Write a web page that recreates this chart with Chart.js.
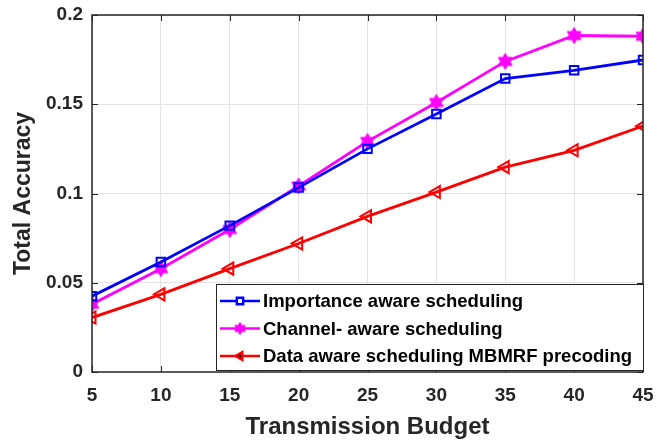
<!DOCTYPE html>
<html>
<head>
<meta charset="utf-8">
<script src="https://cdn.jsdelivr.net/npm/chart.js@4.4.0/dist/chart.umd.min.js"></script>
<style>
  html, body { margin: 0; padding: 0; background: #fff; }
  #wrap { width: 670px; height: 442px; position: relative; }
</style>
</head>
<body>
<div id="wrap"><canvas id="c" width="670" height="442"></canvas></div>
<script>
// Transmission budgets on the x axis
const budgets = [5, 10, 15, 20, 25, 30, 35, 40, 45];

// Total accuracy for each scheduling scheme
const importanceAware = [0.0425, 0.0616, 0.0820, 0.1033, 0.1250, 0.1445, 0.1644, 0.1690, 0.1748];
const channelAware    = [0.0380, 0.0579, 0.0798, 0.1042, 0.1292, 0.1510, 0.1740, 0.1885, 0.1881];
const dataAwareMBMRF  = [0.0305, 0.0435, 0.0579, 0.0720, 0.0872, 0.1008, 0.1148, 0.1242, 0.1378];

const seriesNames = [
  'Importance aware scheduling',
  'Channel- aware scheduling',
  'Data aware scheduling MBMRF precoding'
];

// Y tick values and their labels
const yTickValues = [0, 0.05, 0.1, 0.15, 0.2];
const yTickLabels = ['0', '0.05', '0.1', '0.15', '0.2'];

const FONT = '"Liberation Sans", Arial, sans-serif';

// Six-pointed filled star used as the marker of the channel-aware series
function makeHexagram(color, r) {
  const size = Math.ceil(r * 2 + 4);
  const cv = document.createElement('canvas');
  cv.width = size; cv.height = size;
  const g = cv.getContext('2d');
  const cx = size / 2, cy = size / 2;
  g.fillStyle = color;
  g.strokeStyle = color;
  g.lineWidth = 1;
  g.beginPath();
  for (let i = 0; i < 12; i++) {
    const a = -Math.PI / 2 + i * Math.PI / 6;
    const rr = (i % 2 === 0) ? r : r * 0.58;
    const px = cx + rr * Math.cos(a), py = cy + rr * Math.sin(a);
    if (i === 0) g.moveTo(px, py); else g.lineTo(px, py);
  }
  g.closePath();
  g.fill();
  g.stroke();
  return cv;
}
const hexagram = makeHexagram('#ff00ff', 8);
const hexagramSmall = makeHexagram('#ff00ff', 6);

const toPoints = arr => arr.map((v, i) => ({ x: budgets[i], y: v }));

// Box around the axes with inward ticks on all four sides
const boxAxes = {
  id: 'boxAxes',
  afterDatasetsDraw(chart) {
    const { ctx, chartArea: a, scales } = chart;
    ctx.save();
    ctx.strokeStyle = '#262626';
    ctx.lineWidth = 1;
    const tl = 6;
    ctx.beginPath();
    budgets.forEach(b => {
      const px = Math.round(scales.x.getPixelForValue(b)) + 0.5;
      ctx.moveTo(px, a.top); ctx.lineTo(px, a.top + tl);
      ctx.moveTo(px, a.bottom); ctx.lineTo(px, a.bottom - tl);
    });
    yTickValues.forEach(v => {
      const py = Math.round(scales.y.getPixelForValue(v)) + 0.5;
      ctx.moveTo(a.left, py); ctx.lineTo(a.left + tl, py);
      ctx.moveTo(a.right, py); ctx.lineTo(a.right - tl, py);
    });
    ctx.stroke();
    ctx.lineWidth = 1.5;
    ctx.strokeRect(a.left, a.top, a.right - a.left, a.bottom - a.top);
    ctx.restore();
  }
};

// Legend box in the lower right corner of the plot
const boxLegend = {
  id: 'boxLegend',
  afterDraw(chart) {
    const { ctx, chartArea: a } = chart;
    const w = 427, h = 86;
    const x0 = a.right - w, y0 = a.bottom - h - 2;
    ctx.save();
    ctx.fillStyle = '#fff';
    ctx.fillRect(x0, y0, w, h);
    ctx.strokeStyle = '#262626';
    ctx.lineWidth = 1;
    ctx.strokeRect(x0 + 0.5, y0 + 0.5, w, h);
    ctx.font = 'bold 18.5px ' + FONT;
    ctx.textBaseline = 'middle';
    chart.data.datasets.forEach((ds, i) => {
      const cy = y0 + 17 + i * 27.5;
      ctx.strokeStyle = ds.borderColor;
      ctx.lineWidth = 2.5;
      ctx.beginPath();
      ctx.moveTo(x0 + 4, cy); ctx.lineTo(x0 + 44, cy);
      ctx.stroke();
      const ps = ds.pointStyle === hexagram ? hexagramSmall : ds.pointStyle;
      Chart.helpers.drawPoint(ctx, {
        pointStyle: ps,
        radius: 4.5,
        rotation: ds.pointRotation || 0,
        borderWidth: 2
      }, x0 + 24, cy);
      ctx.fillStyle = '#000';
      ctx.fillText(ds.label, x0 + 47, cy + 1);
    });
    ctx.restore();
  }
};

new Chart(document.getElementById('c'), {
  type: 'line',
  data: {
    datasets: [
      {
        label: seriesNames[0],
        data: toPoints(importanceAware),
        borderColor: '#0000ff',
        backgroundColor: 'rgba(0,0,0,0)',
        borderWidth: 2.8,
        pointStyle: 'rect',
        pointRadius: 6,
        pointBorderWidth: 2,
        pointBorderColor: '#0000ff',
        pointBackgroundColor: 'rgba(0,0,0,0)'
      },
      {
        label: seriesNames[1],
        data: toPoints(channelAware),
        borderColor: '#ff00ff',
        backgroundColor: 'rgba(0,0,0,0)',
        borderWidth: 2.8,
        pointStyle: hexagram,
        pointRadius: 8
      },
      {
        label: seriesNames[2],
        data: toPoints(dataAwareMBMRF),
        borderColor: '#ff0000',
        backgroundColor: 'rgba(0,0,0,0)',
        borderWidth: 2.8,
        pointStyle: 'triangle',
        pointRotation: -90,
        pointRadius: 7,
        pointBorderWidth: 2,
        pointBorderColor: '#ff0000',
        pointBackgroundColor: 'rgba(0,0,0,0)'
      }
    ]
  },
  options: {
    responsive: false,
    animation: false,
    devicePixelRatio: 1,
    layout: { padding: { top: 15, right: 27, left: 0, bottom: 0 } },
    plugins: {
      legend: { display: false },
      tooltip: { enabled: false }
    },
    elements: { line: { tension: 0 } },
    scales: {
      x: {
        type: 'linear',
        min: 5,
        max: 45,
        afterFit(s) { s.height = 70; s.paddingLeft = 0; s.paddingRight = 0; },
        afterBuildTicks(s) { s.ticks = budgets.map(v => ({ value: v })); },
        grid: { color: '#e3e3e3', lineWidth: 1, drawTicks: false },
        border: { display: false },
        ticks: {
          color: '#262626',
          padding: 12,
          font: { family: FONT, size: 19, weight: 'bold' },
          callback: v => String(v)
        },
        title: {
          display: true,
          text: 'Transmission Budget',
          color: '#262626',
          padding: { top: 1, bottom: 0 },
          font: { family: FONT, size: 24, weight: 'bold' }
        }
      },
      y: {
        type: 'linear',
        min: 0,
        max: 0.2,
        afterFit(s) { s.width = 92; s.paddingTop = 0; s.paddingBottom = 0; },
        afterBuildTicks(s) { s.ticks = yTickValues.map(v => ({ value: v })); },
        grid: { color: '#e3e3e3', lineWidth: 1, drawTicks: false },
        border: { display: false },
        ticks: {
          color: '#262626',
          padding: 9,
          font: { family: FONT, size: 19, weight: 'bold' },
          callback: (v) => {
            const i = yTickValues.findIndex(t => Math.abs(t - v) < 1e-9);
            return i >= 0 ? yTickLabels[i] : '';
          }
        },
        title: {
          display: true,
          text: 'Total Accuracy',
          color: '#262626',
          padding: { top: 10, bottom: 0 },
          font: { family: FONT, size: 23, weight: 'bold' }
        }
      }
    }
  },
  plugins: [boxAxes, boxLegend]
});
</script>
</body>
</html>
